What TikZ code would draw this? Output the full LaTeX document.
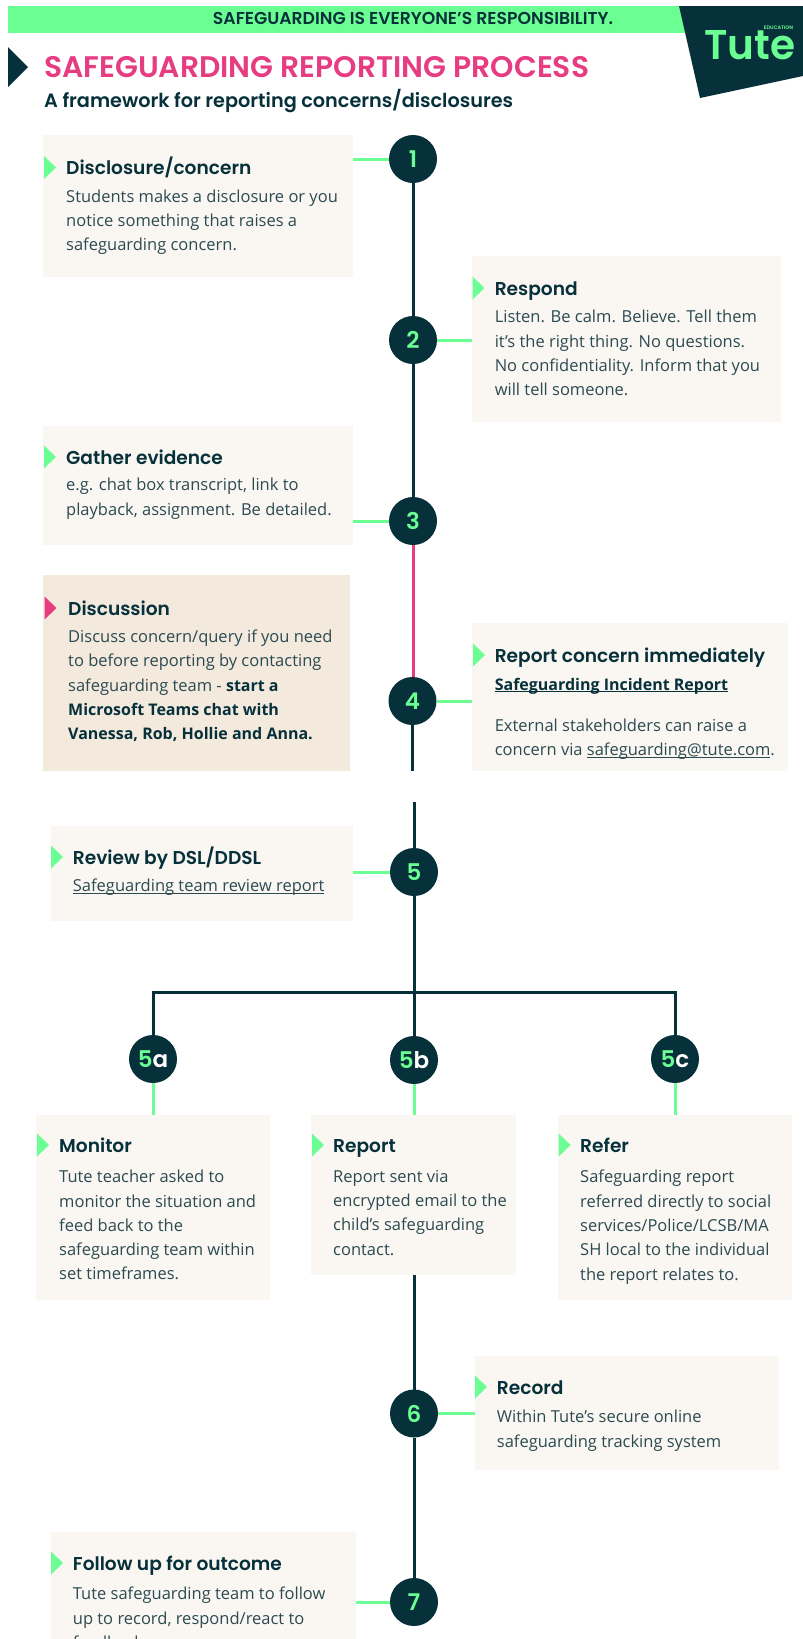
\documentclass[tikz,border=0pt]{standalone}
\usepackage{graphicx}
\usepackage{fontspec}
\setmainfont{Open Sans}
\newfontfamily\headfont{Poppins SemiBold}
\definecolor{ink}{HTML}{06303A}
\definecolor{bodyink}{HTML}{2C4A52}
\definecolor{mint}{HTML}{6BFF93}
\definecolor{roseink}{HTML}{E63C82}
\definecolor{paper}{HTML}{FAF7F2}
\definecolor{sand}{HTML}{F3E9DD}
\tikzset{
  panelrect/.style={rectangle,inner sep=0pt,outer sep=0pt},
  headtxt/.style={anchor=base west,inner sep=0pt,text=ink,font=\headfont\fontsize{18.6}{20}\selectfont},
  bodytxt/.style={anchor=north west,inner sep=0pt,align=left,text=bodyink,font=\fontsize{16.5}{24.3}\selectfont},
  stepdot/.style={circle,fill=ink,minimum size=48pt,inner sep=0pt,outer sep=0pt,text=mint,font=\headfont\fontsize{23}{24}\selectfont},
  spine/.style={draw=ink,line width=3pt},
  rosespine/.style={draw=roseink,line width=3pt},
  tie/.style={draw=mint,line width=3pt},
}
\newcommand{\strongink}[1]{{\fontsize{16}{24.3}\selectfont\bfseries\color{ink}#1}}
\newcommand{\linktext}[1]{\underline{\smash{#1}}}
\newcommand{\panelbox}[6]{\node[panelrect,fill=#6,minimum width={(#4-#2)*1pt},minimum height={(#5-#3)*1pt}] (#1) at ({(#2+#4)/2},{(#3+#5)/2}) {};}
\newcommand{\panelhead}[6]{%
  \fill[#5] (#3,#4-11.5) -- (#3+12,#4) -- (#3,#4+11.5) -- cycle;
  \node[headtxt] (#1t) at (#2,#4+7) {#6};}
\newcommand{\panelbody}[4]{\node[bodytxt] (#1b) at (#2,#3-12) {\rule{0pt}{12pt}#4};}
\begin{document}
\begin{tikzpicture}[x=1pt,y=-1pt]
\useasboundingbox (0,0) rectangle (803,1639);
\clip (0,0) rectangle (803,1639);
\fill[white] (0,0) rectangle (803,1639);
% header
\node[panelrect,fill=mint,minimum width=677pt,minimum height=27pt] (banner) at (346.5,19.5) {};
\node[inner sep=0pt,text=ink,font=\headfont] (bannertext) at (413,18.5) {\resizebox{400pt}{!}{SAFEGUARDING IS EVERYONE’S RESPONSIBILITY.}};
\fill[ink] (679,6) -- (803,6) -- (803,76) -- (700,98) -- cycle;
\node[inner sep=0pt,text=mint,font=\headfont,anchor=south west] (logo) at (704,60) {\resizebox{91pt}{29pt}{Tute}};
\node[inner sep=0pt,text=mint,font=\headfont\fontsize{5}{5}\selectfont,anchor=center] (logosub) at (778.5,28) {EDUCATION};
\fill[ink] (8,47) -- (28,67) -- (8,87) -- cycle;
\node[inner sep=0pt,anchor=base west,text=roseink,font=\headfont] (title) at (44,77.5) {\resizebox{545pt}{!}{SAFEGUARDING REPORTING PROCESS}};
\node[inner sep=0pt,anchor=base west,text=ink,font=\headfont] (subtitle) at (44,107.5) {\resizebox{469pt}{!}{A framework for reporting concerns/disclosures}};
% panels
\panelbox{p1}{43}{135}{353}{277}{paper}
\panelhead{p1}{66}{44}{167.5}{mint}{Disclosure/concern}
\panelbody{p1}{66}{201.5}{Students makes a disclosure or you\\notice something that raises a\\safeguarding concern.}
\panelbox{p2}{472}{256}{781}{422}{paper}
\panelhead{p2}{494.6}{472.5}{288}{mint}{Respond}
\panelbody{p2}{494.6}{322}{Listen. Be calm. Believe. Tell them\\it’s the right thing. No questions.\\No confidentiality. Inform that you\\will tell someone.}
\panelbox{p3}{43}{425.5}{353}{545}{paper}
\panelhead{p3}{66}{44}{457}{mint}{Gather evidence}
\panelbody{p3}{66}{490}{e.g. chat box transcript, link to\\playback, assignment. Be detailed.}
\panelbox{p4}{43}{575}{350}{771}{sand}
\panelhead{p4}{68}{44.5}{608}{roseink}{Discussion}
\panelbody{p4}{68}{641.7}{Discuss concern/query if you need\\to before reporting by contacting\\safeguarding team - \strongink{start a}\\\strongink{Microsoft Teams chat with}\\\strongink{Vanessa, Rob, Hollie and Anna.}}
\panelbox{p4r}{472}{623}{787.5}{771}{paper}
\panelhead{p4r}{494.6}{473}{655}{mint}{Report concern immediately}
\panelbody{p4r}{494.6}{690}{\strongink{\linktext{Safeguarding Incident Report}}}
\panelbody{p4s}{494.6}{730.7}{External stakeholders can raise a\\concern via \linktext{safeguarding@tute.com}.}
\panelbox{p5}{50.7}{826}{353}{921}{paper}
\panelhead{p5}{72.7}{51}{857}{mint}{Review by DSL/DDSL}
\panelbody{p5}{72.7}{891.7}{\linktext{Safeguarding team review report}}
\panelbox{pa}{36.4}{1115}{270}{1300}{paper}
\panelhead{pa}{59}{37}{1145}{mint}{Monitor}
\panelbody{pa}{59}{1182}{Tute teacher asked to\\monitor the situation and\\feed back to the\\safeguarding team within\\set timeframes.}
\panelbox{pb}{311}{1115}{516}{1275}{paper}
\panelhead{pb}{333}{312}{1145}{mint}{Report}
\panelbody{pb}{333}{1182}{Report sent via\\encrypted email to the\\child’s safeguarding\\contact.}
\panelbox{pc}{558}{1115}{792}{1300}{paper}
\panelhead{pc}{580}{558.6}{1145}{mint}{Refer}
\panelbody{pc}{580}{1182}{Safeguarding report\\referred directly to social\\services/Police/LCSB/MA\\SH local to the individual\\the report relates to.}
\panelbox{p6}{474.7}{1356}{779}{1470}{paper}
\panelhead{p6}{496.7}{475}{1387}{mint}{Record}
\panelbody{p6}{496.7}{1422}{Within Tute’s secure online\\safeguarding tracking system}
\panelbox{p7}{50.7}{1532}{356}{1660}{paper}
\panelhead{p7}{72.7}{51}{1563}{mint}{Follow up for outcome}
\panelbody{p7}{72.7}{1599}{Tute safeguarding team to follow\\up to record, respond/react to\\feedback.}
% step dots
\node[stepdot] (c1) at (413,159) {1};
\node[stepdot] (c2) at (413,340) {2};
\node[stepdot] (c3) at (413,521) {3};
\node[stepdot] (c4) at (412.5,701) {4};
\node[stepdot] (c5) at (414,872) {5};
\node[stepdot] (c5a) at (153,1059) {5\textcolor{white}{a}};
\node[stepdot] (c5b) at (414,1060) {5\textcolor{white}{b}};
\node[stepdot] (c5c) at (675,1059) {5\textcolor{white}{c}};
\node[stepdot] (c6) at (414,1413.5) {6};
\node[stepdot] (c7) at (414,1602) {7};
\coordinate (resume) at (414,802);
\coordinate (bus) at (414,992);
% connectors
\draw[spine] (c1.south) -- (c2.north);
\draw[spine] (c2.south) -- (c3.north);
\draw[rosespine] (c3.south) -- (c3.south |- c4.north);
\draw[spine] (c4.south) -- (c4.south |- p4r.south);
\draw[spine] (resume) -- (c5.north);
\draw[spine] (c5.south) -- (c5b.north);
\draw[spine] (c5a.north) -- (c5a.north |- bus) -- (c5c.north |- bus) -- (c5c.north);
\draw[spine] (c6.north |- pb.south) -- (c6.north);
\draw[spine] (c6.south) -- (c7.north);
\draw[tie] (c1.west) -- (c1.west -| p1.east);
\draw[tie] (c2.east) -- (c2.east -| p2.west);
\draw[tie] (c3.west) -- (c3.west -| p3.east);
\draw[tie] (c4.east) -- (c4.east -| p4r.west);
\draw[tie] (c5.west) -- (c5.west -| p5.east);
\draw[tie] (c5a.south) -- (c5a.south |- pa.north);
\draw[tie] (c5b.south) -- (c5b.south |- pb.north);
\draw[tie] (c5c.south) -- (c5c.south |- pc.north);
\draw[tie] (c6.east) -- (c6.east -| p6.west);
\draw[tie] (c7.west) -- (c7.west -| p7.east);
\end{tikzpicture}
\end{document}
